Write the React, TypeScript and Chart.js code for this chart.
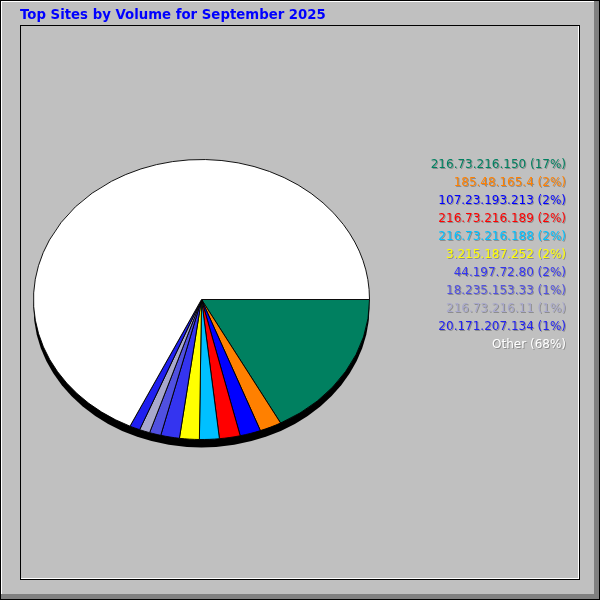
import { useRef, useEffect } from 'react'
import { Chart, ArcElement, PieController, Plugin } from 'chart.js'

Chart.register(ArcElement, PieController)

const TITLE = 'Top Sites by Volume for September 2025'
const sites = [
  '216.73.216.150', '185.48.165.4', '107.23.193.213', '216.73.216.189', '216.73.216.188',
  '3.215.187.252', '44.197.72.80', '18.235.153.33', '216.73.216.11', '20.171.207.134',
]
const shares = [17.2, 2.1, 2.0, 2.0, 1.9, 1.9, 1.8, 1.1, 1.0, 1.0]
const otherLabel = 'Other'
const otherShare = 68.0
const sliceColours = [
  '#008060', '#ff8000', '#0000ff', '#ff0000', '#00c0ff',
  '#ffff00', '#3434f0', '#5050e0', '#a8a8cc', '#2020f0',
]
const otherColour = '#ffffff'

// ellipse squash + depth of the webalizer-style 3D pie
const SQUASH = 140 / 168
const DEPTH = 8

const ellipsePie: Plugin<'pie'> = {
  id: 'ellipsePie',
  beforeDatasetsDraw(chart) {
    const arc = chart.getDatasetMeta(0).data[0] as any
    if (!arc) return
    const { x, y, outerRadius } = arc
    const ctx = chart.ctx
    ctx.save()
    ctx.translate(x, y)
    ctx.scale(1, SQUASH)
    ctx.translate(-x, -y)
    ctx.beginPath()
    ctx.arc(x, y + DEPTH / SQUASH, outerRadius, 0, Math.PI * 2)
    ctx.fillStyle = '#000'
    ctx.fill()
  },
  afterDatasetsDraw(chart) {
    chart.ctx.restore()
  },
}

const frame: Plugin<'pie'> = {
  id: 'frame',
  beforeDraw(chart) {
    const ctx = chart.ctx
    const w = chart.width, h = chart.height
    ctx.save()
    ctx.fillStyle = '#c0c0c0'
    ctx.fillRect(0, 0, w, h)
    // outer bevel
    ctx.fillStyle = '#808080'
    ctx.fillRect(w - 6, 1, 5, h - 2)
    ctx.fillRect(1, h - 6, w - 2, 5)
    ctx.fillStyle = '#ffffff'
    ctx.fillRect(1, 1, w - 7, 1)
    ctx.fillRect(1, 1, 1, h - 7)
    ctx.strokeStyle = '#000'
    ctx.lineWidth = 1
    ctx.strokeRect(0.5, 0.5, w - 1, h - 1)
    // inner sunken box
    ctx.strokeRect(20.5, 25.5, 559, 554)
    ctx.fillStyle = '#ffffff'
    ctx.fillRect(578, 26, 1, 553)
    ctx.fillRect(21, 578, 558, 1)
    // title
    ctx.font = 'bold 13.3px "DejaVu Sans"'
    ctx.fillStyle = '#0000ff'
    ctx.textAlign = 'left'
    ctx.textBaseline = 'alphabetic'
    ctx.fillText(TITLE, 20, 19)
    ctx.restore()
  },
  afterDraw(chart) {
    const ctx = chart.ctx
    const labels = [...sites, otherLabel]
    const values = [...shares, otherShare]
    const colours = [...sliceColours, otherColour]
    ctx.save()
    ctx.font = '12px "DejaVu Sans"'
    ctx.textAlign = 'right'
    ctx.textBaseline = 'alphabetic'
    labels.forEach((l, i) => {
      const text = `${l} (${Math.round(values[i])}%)`
      const y = 168 + i * 18
      ctx.fillStyle = 'rgba(80,80,80,0.45)'
      ctx.fillText(text, 567, y + 1)
      ctx.fillStyle = colours[i]
      ctx.fillText(text, 566, y)
    })
    ctx.restore()
  },
}

export default function App() {
  const canvasRef = useRef<HTMLCanvasElement>(null)
  const chartRef = useRef<Chart<'pie'> | null>(null)

  useEffect(() => {
    document.body.style.margin = '0'
    if (!canvasRef.current) return
    if (chartRef.current) chartRef.current.destroy()

    chartRef.current = new Chart(canvasRef.current, {
      type: 'pie',
      data: {
        labels: [...sites, otherLabel],
        datasets: [{
          data: [...shares, otherShare],
          backgroundColor: [...sliceColours, otherColour],
          borderColor: '#000',
          borderWidth: 1,
          hoverOffset: 0,
        }],
      },
      options: {
        responsive: false,
        devicePixelRatio: 1,
        animation: false,
        rotation: 90,
        layout: { padding: { left: 33, right: 230, top: 131, bottom: 132 } },
        plugins: {
          legend: { display: false },
          tooltip: { enabled: false },
        },
      },
      plugins: [frame, ellipsePie],
    })

    return () => { chartRef.current?.destroy() }
  }, [])

  return <canvas ref={canvasRef} width={600} height={600} style={{ display: 'block' }} />
}
